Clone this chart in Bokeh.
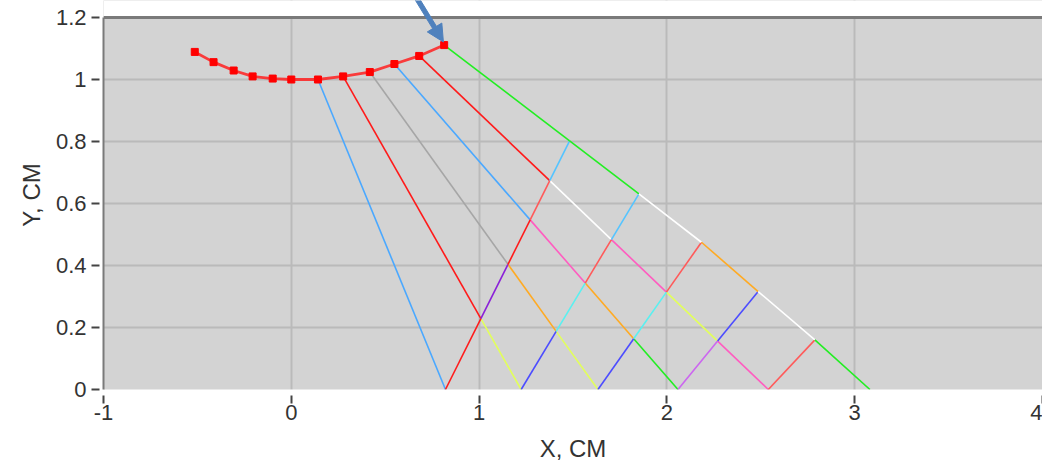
import math
from bokeh.plotting import figure
from bokeh.models import FixedTicker, Span, PolyAnnotation, BoxAnnotation, Range1d, ColumnDataSource
from bokeh.embed import file_html
from bokeh.resources import INLINE

# ---- data ----
curve_x = [-0.514, -0.414, -0.307, -0.206, -0.099, 0.0, 0.142, 0.276, 0.418, 0.549, 0.681, 0.814]
curve_y = [1.089, 1.056, 1.029, 1.010, 1.003, 1.0, 1.0, 1.010, 1.024, 1.050, 1.076, 1.111]

ray_start_index = [6, 7, 8, 9, 10, 11]            # curve points that emit rays
bottom_x = [0.821, 1.224, 1.633, 2.059, 2.540, 3.081]  # where rays reach y = 0
edge_top_x = [1.482, 1.851, 2.184, 2.486, 2.788]   # where reflected rays meet the outer ray
edge_top_y = [0.802, 0.631, 0.475, 0.316, 0.160]

down_colors = [
    ["blue"],
    ["red", "yellow"],
    ["gray", "orange", "yellow"],
    ["blue", "pink", "orange", "green"],
    ["red", "white", "pink", "yellow", "pink"],
]
edge_colors = ["green", "green", "white", "orange", "white", "green"]
up_colors = [
    ["red", "purple", "red", "salmon", "sky"],
    ["navy", "aqua", "salmon", "sky"],
    ["navy", "aqua", "salmon"],
    ["violet", "navy"],
    ["salmon"],
]
palette = {
    "blue": "#4aa8ff", "red": "#ff1a1a", "yellow": "#e2ff5a", "gray": "#a6a6a6",
    "orange": "#ffaa22", "pink": "#ff5cc0", "green": "#22ee22", "white": "#ffffff",
    "purple": "#8a1fd8", "salmon": "#ff5a5a", "sky": "#55c4ff", "navy": "#4c4cff",
    "aqua": "#5af0f0", "violet": "#cc66f0",
}

x_ticks = [-1, 0, 1, 2, 3, 4]
x_tick_labels = {-1: "-1", 0: "0", 1: "1", 2: "2", 3: "3", 4: "4"}
y_ticks = [0, 0.2, 0.4, 0.6, 0.8, 1.0, 1.2]
y_tick_labels = {0: "0", 0.2: "0.2", 0.4: "0.4", 0.6: "0.6", 0.8: "0.8", 1.0: "1", 1.2: "1.2"}
y_top = 1.2

# pointer arrow (data coordinates)
arrow_start = (0.668, 1.262)
arrow_tip = (0.810, 1.121)


def intersect(a, b, c, d):
    (x1, y1), (x2, y2), (x3, y3), (x4, y4) = a, b, c, d
    den = (x1 - x2) * (y3 - y4) - (y1 - y2) * (x3 - x4)
    t = ((x1 - x3) * (y3 - y4) - (y1 - y3) * (x3 - x4)) / den
    return (x1 + t * (x2 - x1), y1 + t * (y2 - y1))


down = []
for k in range(5):
    i = ray_start_index[k]
    down.append(((curve_x[i], curve_y[i]), (bottom_x[k], 0.0)))
up = []
for j in range(5):
    up.append(((bottom_x[j], 0.0), (edge_top_x[j], edge_top_y[j])))

sx0, sy0, sx1, sy1, scol = [], [], [], [], []


def add_path(points, colors):
    for n in range(len(points) - 1):
        sx0.append(points[n][0]); sy0.append(points[n][1])
        sx1.append(points[n + 1][0]); sy1.append(points[n + 1][1])
        scol.append(palette[colors[n]])


for k in range(5):
    pts = [down[k][0]]
    for j in range(k):
        pts.append(intersect(*down[k], *up[j]))
    pts.append(down[k][1])
    add_path(pts, down_colors[k])

for j in range(5):
    pts = [up[j][0]]
    for k in range(j + 1, 5):
        pts.append(intersect(*up[j], *down[k]))
    pts.append(up[j][1])
    add_path(pts, up_colors[j])

edge_pts = [(curve_x[11], curve_y[11])] + list(zip(edge_top_x, edge_top_y)) + [(bottom_x[5], 0.0)]
add_path(edge_pts, edge_colors)

seg_src = ColumnDataSource(dict(x0=sx0, y0=sy0, x1=sx1, y1=sy1, c=scol))

# ---- figure ----
# the frame reaches the top of the canvas so that the arrow can be drawn above the plot box;
# the strip above y_top is painted white to look like the page
W, H = 1042, 466
BL, BR, BT, BB = 103, 0, 0, 77
box_top_px = 17
frame_h = H - BT - BB
ky = (frame_h - box_top_px) / y_top          # pixels per y unit
y_max = frame_h / ky
kx = (W - BL - BR) / 5.0                     # pixels per x unit

p = figure(width=W, height=H, output_backend="svg", toolbar_location=None,
           x_range=Range1d(-1, 4), y_range=Range1d(0, y_max),
           min_border_left=BL, min_border_right=BR, min_border_top=BT, min_border_bottom=BB)
p.background_fill_color = "#d3d3d3"
p.border_fill_color = "white"
p.outline_line_color = None

p.xaxis.ticker = FixedTicker(ticks=x_ticks)
p.yaxis.ticker = FixedTicker(ticks=y_ticks)
p.xaxis.major_label_overrides = x_tick_labels
p.yaxis.major_label_overrides = y_tick_labels
p.xgrid.grid_line_color = "#bababa"
p.ygrid.grid_line_color = "#bababa"
p.xgrid.grid_line_width = 2
p.ygrid.grid_line_width = 2
p.xgrid.bounds = (0, y_top)

for ax in (p.xaxis[0], p.yaxis[0]):
    ax.minor_tick_line_color = None
    ax.major_tick_line_color = "#444444"
    ax.major_tick_line_width = 2
    ax.major_label_text_font = "Liberation Sans"
    ax.major_label_text_font_size = "22px"
    ax.major_label_text_color = "#333333"
    ax.axis_label_text_font = "Liberation Sans"
    ax.axis_label_text_font_size = "24px"
    ax.axis_label_text_font_style = "normal"
    ax.axis_label_text_color = "#333333"

p.xaxis.axis_label = "X, CM"
p.yaxis.axis_label = "Y, CM"
p.xaxis.axis_line_color = None
p.yaxis.axis_line_color = "#7a7a7a"
p.yaxis.axis_line_width = 2
p.yaxis.bounds = (0, y_top)
p.xaxis.major_tick_in = -6
p.xaxis.major_tick_out = 14
p.yaxis.major_tick_in = -4
p.yaxis.major_tick_out = 12
p.xaxis.major_label_standoff = 1
p.yaxis.major_label_standoff = 5
p.xaxis.axis_label_standoff = 12
p.yaxis.axis_label_standoff = 8

p.add_layout(BoxAnnotation(bottom=y_top, fill_color="white", fill_alpha=1.0, line_color=None))
p.add_layout(Span(location=y_top, dimension="width", line_color="#7a7a7a", line_width=3))

p.segment("x0", "y0", "x1", "y1", source=seg_src, line_color="c", line_width=1.6)

p.line(curve_x, curve_y, line_color="#ff2020", line_width=2.8, line_alpha=0.85)
p.scatter(curve_x, curve_y, marker="square", size=7, fill_color="#ff0000", line_color="#ff0000")

# arrow drawn as a polygon (pixel-true proportions)
Sx, Sy = arrow_start[0] * kx, arrow_start[1] * ky
Tx, Ty = arrow_tip[0] * kx, arrow_tip[1] * ky
L = math.hypot(Tx - Sx, Ty - Sy)
ux, uy = (Tx - Sx) / L, (Ty - Sy) / L
nx, ny = -uy, ux
head_len, head_half, shaft_half = 17.0, 8.5, 2.2
Bx, By = Tx - ux * head_len, Ty - uy * head_len
poly = [(Sx + nx * shaft_half, Sy + ny * shaft_half), (Bx + nx * shaft_half, By + ny * shaft_half),
        (Bx + nx * head_half, By + ny * head_half), (Tx, Ty),
        (Bx - nx * head_half, By - ny * head_half), (Bx - nx * shaft_half, By - ny * shaft_half),
        (Sx - nx * shaft_half, Sy - ny * shaft_half)]
p.add_layout(PolyAnnotation(xs=[q[0] / kx for q in poly], ys=[q[1] / ky for q in poly],
                            fill_color="#4f81bd", fill_alpha=1.0, line_color="#4f81bd",
                            line_width=1, line_alpha=1.0))

open("out.html", "w").write(file_html(p, INLINE))
